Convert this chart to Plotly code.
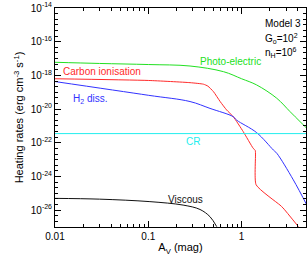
import numpy as np
import plotly.graph_objects as go

# ---- data (A_V in mag, heating rates in erg cm^-3 s^-1) ----
pe_av = [0.01, 0.03, 0.1, 0.28, 0.64, 1.0, 1.45, 2.38, 3.3, 4.23, 5.0]
pe_rate = [6.0e-18, 5.1e-18, 4.4e-18, 3.6e-18, 1.66e-18, 6.3e-19, 2.7e-19, 4.4e-20, 7.1e-21, 1.8e-21, 7.2e-22]

ci_av = [0.01, 0.1, 0.28, 0.39, 0.435, 0.50, 0.59, 0.69, 0.815, 1.04, 1.33, 1.40, 1.43, 2.58, 2.78, 4.06]
ci_rate = [6.3e-19, 5.0e-19, 3.7e-19, 3.0e-19, 2.3e-19, 1.07e-19, 2.75e-20, 8.9e-21, 3.5e-21, 4.6e-22, 4.7e-23, 3.5e-23, 3.2e-25, 2.0e-26, 1.35e-26, 1.05e-27]

h2_av = [0.01, 0.1, 0.28, 0.458, 0.815, 0.885, 1.45, 2.19, 2.38, 3.58, 5.0]
h2_rate = [4.3e-19, 6.6e-20, 2.8e-20, 1.1e-20, 3.5e-21, 2.2e-21, 4.0e-22, 3.7e-23, 2.4e-23, 6.3e-25, 2.0e-26]

cr_av = [0.01, 5.0]
cr_rate = [3.5e-22, 3.5e-22]

visc_av = [0.01, 0.03, 0.104, 0.236, 0.358, 0.458, 0.541]
visc_rate = [5.0e-26, 4.5e-26, 3.2e-26, 2.0e-26, 1.1e-26, 4.1e-27, 1.05e-27]

x_tickvals = [0.01, 0.1, 1]
x_ticktext = ["0.01", "0.1", "1"]
y_exps = [-14, -16, -18, -20, -22, -24, -26]

FONT = "Liberation Sans, Arial, Helvetica, sans-serif"
GREEN, RED, BLUE, CYAN, BLACK = "#22e022", "#ff2a2a", "#3232ff", "#22eeee", "#111111"

fig = go.Figure()
for xs, ys, c in [(pe_av, pe_rate, GREEN), (ci_av, ci_rate, RED), (h2_av, h2_rate, BLUE),
                  (cr_av, cr_rate, CYAN), (visc_av, visc_rate, BLACK)]:
    fig.add_trace(go.Scatter(x=xs, y=ys, mode="lines", line=dict(color=c, width=1),
                             line_shape="spline", showlegend=False, hoverinfo="skip"))
# red line: mild smoothing so the vertical drop stays sharp
fig.data[1].line.smoothing = 0.5

minor_x = [m * 10.0 ** e for e in (-2, -1, 0) for m in range(2, 10) if m * 10.0 ** e <= 5]
minor_y = [10.0 ** (k / 3.0) for k in range(-81, -41)]

fig.update_xaxes(type="log", range=[-2, 0.69], tickvals=x_tickvals, ticktext=x_ticktext,
                 ticks="inside", ticklen=6, tickcolor="black", showline=True, linecolor="black",
                 linewidth=1, mirror="ticks", showgrid=False, zeroline=False,
                 minor=dict(tickvals=minor_x, ticks="inside", ticklen=3, tickcolor="black"),
                 title=dict(text="A<sub>V</sub> (mag)", font=dict(size=11, family=FONT), standoff=2),
                 tickfont=dict(size=10, family=FONT, color="black"), automargin=False)
fig.update_yaxes(type="log", range=[-27, -14], tickvals=[10.0 ** e for e in y_exps],
                 ticktext=["10<sup>%d</sup>" % e for e in y_exps],
                 ticks="inside", ticklen=6, tickcolor="black", showline=True, linecolor="black",
                 linewidth=1, mirror="ticks", showgrid=False, zeroline=False,
                 minor=dict(tickvals=minor_y, ticks="inside", ticklen=3, tickcolor="black"),
                 title=dict(text="Heating rates (erg cm<sup>-3</sup> s<sup>-1</sup>)",
                            font=dict(size=11, family=FONT), standoff=4),
                 tickfont=dict(size=10, family=FONT, color="black"), automargin=False)

def lab(text, lx, ly, color):
    fig.add_annotation(x=lx, y=ly, xref="x", yref="y", text=text, showarrow=False,
                       font=dict(size=10, family=FONT, color=color))

lab("Photo-electric", -0.114, -17.2, GREEN)
lab("Carbon ionisation", -1.496, -17.74, RED)
lab("H<sub>2</sub> diss.", -1.62, -19.4, BLUE)
lab("CR", -0.521, -21.93, CYAN)
lab("Viscous", -0.6, -25.34, BLACK)

for txt, py in [("Model 3", 0.963), ("G<sub>o</sub>=10<sup>2</sup>", 0.90), ("n<sub>H</sub>=10<sup>6</sup>", 0.836)]:
    fig.add_annotation(x=0.83, y=py, xref="paper", yref="paper", xanchor="left", text=txt,
                       showarrow=False, font=dict(size=10, family=FONT, color="black"))

fig.update_layout(width=307, height=256, margin=dict(l=55, r=1, t=8, b=29),
                  plot_bgcolor="white", paper_bgcolor="white",
                  font=dict(family=FONT, color="black"))
fig.write_html("out.html", config={"displayModeBar": False},
               post_script="document.body.style.margin='0';")
